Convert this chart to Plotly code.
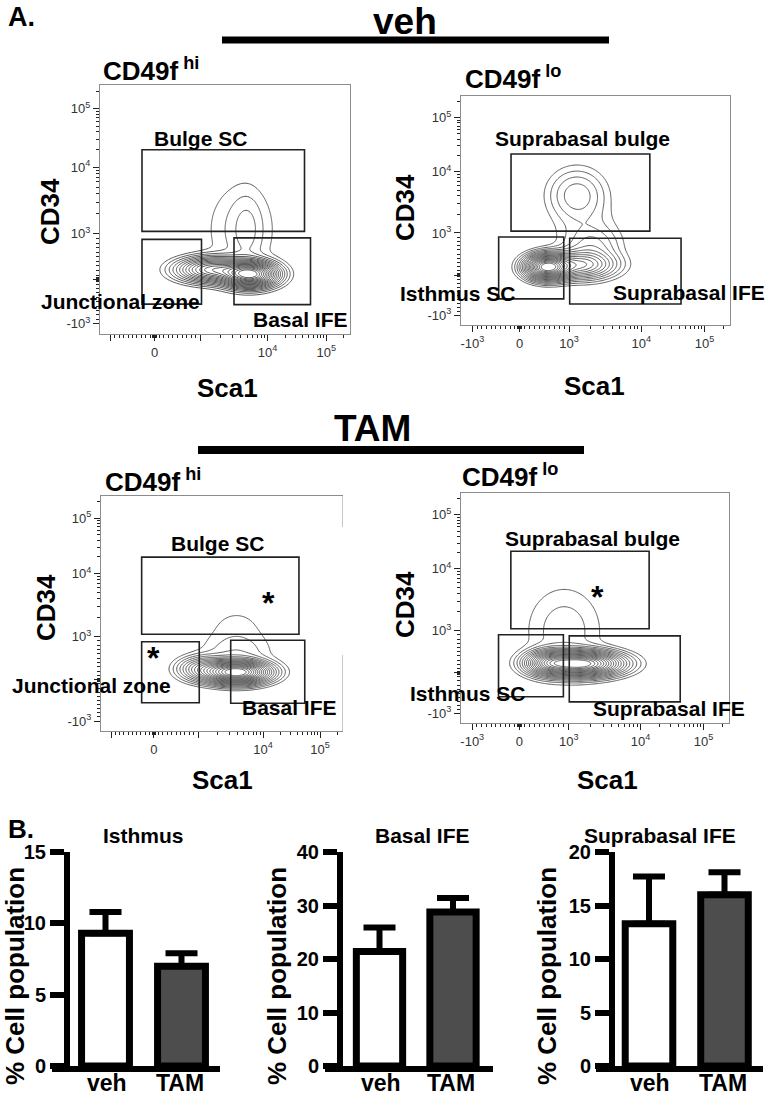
import numpy as np
import plotly.graph_objects as go

W, H = 768, 1097
FONT = "Liberation Sans, Arial, sans-serif"

# ---------------- Panel B: bar-chart data ----------------
groups = ["veh", "TAM"]
isthmus_mean = [9.3, 7.0]
isthmus_err = [1.5, 0.9]
basal_mean = [21.4, 28.8]
basal_err = [4.5, 2.6]
supra_mean = [13.3, 16.0]
supra_err = [4.4, 2.1]
bar_colors = ["#ffffff", "#4d4d4d"]

# ---------------- Panel A: flow axes (logicle-like channel scale 0-1000) ----------------
decade_values = [-1e3, 0, 1e3, 1e4, 1e5]
decade_channels = [42, 218, 402, 670, 905]
x_ticktext_hi = ["", "0", "", "10<sup>4</sup>", "10<sup>5</sup>"]
x_ticktext_lo = ["-10<sup>3</sup>", "0", "10<sup>3</sup>", "10<sup>4</sup>", "10<sup>5</sup>"]
y_ticktext = ["-10<sup>3</sup>", "", "10<sup>3</sup>", "10<sup>4</sup>", "10<sup>5</sup>"]
minor_values = ([-900, -800, -700, -600, -500, -400, -300, -200, -100, -40, -20, 20, 40,
                 100, 200, 300, 400, 500, 600, 700, 800, 900]
                + [2e3, 3e3, 4e3, 5e3, 6e3, 7e3, 8e3, 9e3]
                + [2e4, 3e4, 4e4, 5e4, 6e4, 7e4, 8e4, 9e4, 2e5])

# cell populations:
# (Sca1 centre, CD34 centre, sd Sca1, sd CD34, relative weight) in display channels
veh_hi_pops = [(600, 240, 60, 28, 1.0), (450, 258, 80, 28, 0.5),
               (588, 420, 38, 90, 0.028), (565, 420, 95, 130, 0.035)]
veh_lo_pops = [(320, 253, 45, 30, 1.0), (440, 262, 75, 35, 0.35),
               (431, 568, 65, 70, 0.09), (470, 400, 80, 80, 0.03),
               (490, 340, 60, 50, 0.06)]
tam_hi_pops = [(560, 250, 75, 27, 1.0), (420, 265, 60, 30, 0.2),
               (560, 420, 100, 90, 0.02), (560, 330, 90, 45, 0.03)]
tam_lo_pops = [(445, 258, 85, 30, 1.0), (330, 262, 50, 30, 0.4),
               (385, 400, 95, 130, 0.04)]

# gates (x0, x1, y0, y1) in display channels
gates_hi = {"Bulge SC": (168, 818, 412, 740),
            "Junctional zone": (168, 406, 120, 380),
            "Basal IFE": (536, 842, 118, 386)}
gates_lo = {"Suprabasal bulge": (186, 702, 410, 747),
            "Isthmus SC": (140, 382, 114, 384),
            "Suprabasal IFE": (404, 818, 92, 379)}


def to_channel(v):
    v = np.asarray(v, dtype=float)
    out = np.empty_like(v)
    lin = np.abs(v) < 1e3
    out[lin] = np.interp(v[lin], [-1e3, 0, 1e3], decade_channels[:3])
    lg = v >= 1e3
    lv = np.log10(v[lg])
    out[lg] = np.where(lv <= 4, 402 + (670 - 402) * (lv - 3), 670 + (905 - 670) * (lv - 4))
    return out


minor_channels = list(to_channel(minor_values))

gx = np.linspace(0, 1000, 251)
gy = np.linspace(0, 1000, 251)
GX, GY = np.meshgrid(gx, gy)


def density(pops):
    z = np.zeros_like(GX)
    for cx, cy, sx, sy, w in pops:
        z += w * np.exp(-0.5 * (((GX - cx) / sx) ** 2 + ((GY - cy) / sy) ** 2))
    return np.sqrt(z / z.max())


def px(x):
    return x / W


def py(y):
    return 1 - y / H


fig = go.Figure()

flow_panels = [
    (veh_hi_pops, gates_hi, x_ticktext_hi, "", (100, 350, 85, 334)),
    (veh_lo_pops, gates_lo, x_ticktext_lo, "2", (461, 730, 96, 325)),
    (tam_hi_pops, gates_hi, x_ticktext_hi, "3", (101, 343, 496, 731)),
    (tam_lo_pops, gates_lo, x_ticktext_lo, "4", (461, 729, 493, 723)),
]

shapes = []
layout_axes = {}
for pops, gates, xtt, sfx, (x0, x1, y0, y1) in flow_panels:
    fig.add_trace(go.Contour(
        x=gx, y=gy, z=density(pops), xaxis="x" + sfx, yaxis="y" + sfx,
        contours=dict(coloring="lines", start=0.12, end=0.97, size=0.045),
        line=dict(width=0.9, smoothing=1.0),
        colorscale=[[0, "#4a4a4a"], [1, "#4a4a4a"]], showscale=False, hoverinfo="skip"))
    common = dict(range=[0, 1000], showgrid=False, zeroline=False, showline=True,
                  linecolor="#8c8c8c", linewidth=1, ticks="outside", ticklen=6, tickwidth=1,
                  tickcolor="#222", tickmode="array", tickvals=decade_channels,
                  tickfont=dict(family=FONT, size=13, color="#333"),
                  minor=dict(tickmode="array", tickvals=minor_channels, ticks="outside",
                             ticklen=3, tickwidth=1, tickcolor="#222"))
    layout_axes["xaxis" + sfx] = dict(common, domain=[px(x0), px(x1)], anchor="y" + sfx,
                                      ticktext=xtt, mirror=True)
    layout_axes["yaxis" + sfx] = dict(common, domain=[py(y1), py(y0)], anchor="x" + sfx,
                                      ticktext=y_ticktext, mirror=(sfx != "3"))
    for name, (gx0, gx1, gy0, gy1) in gates.items():
        shapes.append(dict(type="rect", xref="x" + sfx, yref="y" + sfx, x0=gx0, x1=gx1,
                           y0=gy0, y1=gy1, line=dict(color="#222", width=1.6)))

# broken right border of the TAM CD49f-hi panel
shapes.append(dict(type="line", xref="x3", yref="y3", x0=1000, x1=1000, y0=0, y1=323,
                   line=dict(color="#8c8c8c", width=1)))
shapes.append(dict(type="line", xref="x3", yref="y3", x0=1000, x1=1000, y0=868, y1=1000,
                   line=dict(color="#8c8c8c", width=1)))

# header bars
shapes.append(dict(type="line", xref="paper", yref="paper", x0=px(222), x1=px(609),
                   y0=py(40), y1=py(40), line=dict(color="black", width=7)))
shapes.append(dict(type="line", xref="paper", yref="paper", x0=px(198), x1=px(584),
                   y0=py(450), y1=py(450), line=dict(color="black", width=8)))

annotations = []


def txt(s, x, y, size, anchor="center", angle=0, bold=True, color="black"):
    return dict(text=f"<b>{s}</b>" if bold else s, x=px(x), y=py(y), xref="paper", yref="paper",
                showarrow=False, xanchor=anchor, yanchor="middle", textangle=angle,
                font=dict(family=FONT, size=size, color=color))


# ---------------- bar charts ----------------
bar_panels = [
    ("Isthmus", isthmus_mean, isthmus_err, 15, 5, "5", (52, 220, 67), (105.5, 181.5), 143, 15),
    ("Basal IFE", basal_mean, basal_err, 40, 10, "6", (325, 493, 340), (379.5, 453), 422, 277),
    ("Suprabasal IFE", supra_mean, supra_err, 20, 5, "7", (596, 763, 612), (649, 724.5), 660, 547),
]

for title, means, errs, ymax, dt, sfx, (bx0, bx1, yax), (c0, c1), tx, ytx in bar_panels:
    fig.add_trace(go.Bar(
        x=[0, 1], y=means, width=0.63, xaxis="x" + sfx, yaxis="y" + sfx,
        marker=dict(color=bar_colors, line=dict(color="black", width=7)),
        error_y=dict(type="data", array=errs, arrayminus=[0, 0], symmetric=False,
                     thickness=6, width=16, color="black"),
        hoverinfo="skip"))
    unit = c1 - c0
    layout_axes["xaxis" + sfx] = dict(
        domain=[px(bx0), px(bx1)], anchor="y" + sfx,
        range=[-(c0 - bx0) / unit, 1 + (bx1 - c1) / unit],
        showgrid=False, zeroline=False, showline=True, linecolor="black", linewidth=6,
        showticklabels=False, ticks="")
    layout_axes["yaxis" + sfx] = dict(
        domain=[py(1066), py(852)], anchor="free", position=px(yax), range=[0, ymax],
        showgrid=False, zeroline=False, showline=True, linecolor="black", linewidth=6,
        ticks="outside", ticklen=14, tickwidth=6, tickcolor="black", dtick=dt, tick0=0,
        tickfont=dict(family=FONT, size=20, color="black", weight="bold"))
    annotations.append(txt(title, tx, 835, 21))
    annotations.append(txt("% Cell population", ytx, 976, 26, angle=-90))
    annotations.append(txt(groups[0], c0 + 1, 1083, 23))
    annotations.append(txt(groups[1], c1 - 2, 1083, 23))

# ---------------- text of panel A ----------------
annotations += [
    txt("A.", 6, 17, 27, anchor="left"),
    txt("B.", 6, 829, 26, anchor="left"),
    txt("veh", 405, 21, 37),
    txt("TAM", 372, 428, 37),
    txt("CD49f<sup> hi</sup>", 101, 70, 26, anchor="left"),
    txt("CD49f<sup> lo</sup>", 463, 77, 26, anchor="left"),
    txt("CD49f<sup> hi</sup>", 103, 481, 26, anchor="left"),
    txt("CD49f<sup> lo</sup>", 460, 476, 26, anchor="left"),
    txt("CD34", 50, 212, 26, angle=-90),
    txt("CD34", 405, 208, 26, angle=-90),
    txt("CD34", 46, 608, 26, angle=-90),
    txt("CD34", 405, 605, 26, angle=-90),
    txt("Sca1", 227, 388, 26),
    txt("Sca1", 594, 386, 26),
    txt("Sca1", 222, 780, 26),
    txt("Sca1", 607, 780, 26),
    # gate labels
    txt("Bulge SC", 200, 138, 21),
    txt("Junctional zone", 120, 301, 21),
    txt("Basal IFE", 300, 319, 21),
    txt("Suprabasal bulge", 582, 138, 21),
    txt("Isthmus SC", 458, 293, 21),
    txt("Suprabasal IFE", 689, 292, 21),
    txt("Bulge SC", 217, 543, 21),
    txt("Junctional zone", 91, 685, 21),
    txt("Basal IFE", 289, 707, 21),
    txt("Suprabasal bulge", 592, 538, 21),
    txt("Isthmus SC", 468, 693, 21),
    txt("Suprabasal IFE", 669, 708, 21),
    txt("*", 268, 603, 32),
    txt("*", 153, 658, 32),
    txt("*", 597, 597, 32),
]

fig.update_layout(
    width=W, height=H, margin=dict(l=0, r=0, t=0, b=0, autoexpand=False),
    paper_bgcolor="white", plot_bgcolor="rgba(0,0,0,0)",
    showlegend=False, shapes=shapes, annotations=annotations,
    font=dict(family=FONT, color="black"), bargap=0,
    **layout_axes)

fig.write_html("out.html", config={"displayModeBar": False, "staticPlot": True},
               post_script="document.body.style.margin='0px'; document.body.style.overflow='hidden';")
